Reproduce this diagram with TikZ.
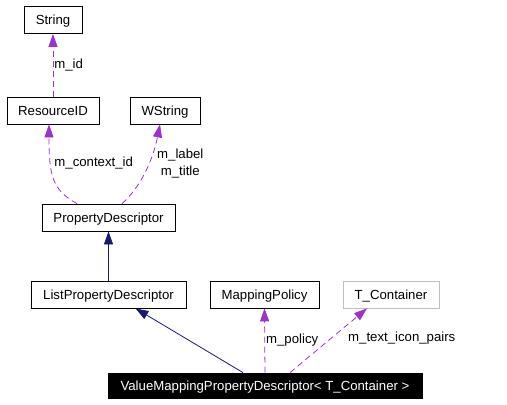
\documentclass[tikz,border=0pt]{standalone}
\usepackage{fontspec}
\setmainfont{Liberation Sans}
\usetikzlibrary{arrows.meta}
\definecolor{lila}{HTML}{9A32CD}
\definecolor{marino}{HTML}{191970}
\definecolor{gris}{HTML}{BFBFBF}
\tikzset{
  >={Triangle[length=13pt,width=9pt]},
  clase/.style={draw, line width=0.8pt, minimum height=27pt, inner sep=0pt,
    text height=9.3pt, text depth=0pt, font=\fontsize{13.2}{15}\selectfont},
  plantilla/.style={clase, draw=gris},
  actual/.style={clase, fill=black, text=white, minimum height=25pt},
  herencia/.style={->, draw=marino, line width=0.8pt},
  uso/.style={->, draw=lila, line width=0.8pt, dash pattern=on 6pt off 4pt},
  etiq/.style={inner sep=1pt, font=\fontsize{13.2}{15}\selectfont},
}

\begin{document}
\begin{tikzpicture}[x=1pt, y=-1pt]
  \useasboundingbox (0,0) rectangle (507,405);
  \node[clase, minimum width=58pt] (string) at (53,20) {String};
  \node[clase, minimum width=92pt] (resid) at (53,110.5) {ResourceID};
  \node[clase, minimum width=70pt] (wstring) at (165,110.5) {WString};
  \node[clase, minimum width=133pt] (pd) at (108.5,217.5) {PropertyDescriptor};
  \node[clase, minimum width=155pt] (listpd) at (108.5,294.5) {ListPropertyDescriptor};
  \node[clase, minimum width=109pt] (mapping) at (264.5,294.5) {MappingPolicy};
  \node[plantilla, minimum width=96pt] (tcont) at (391,294.5) {T\_Container};
  \node[actual, minimum width=314pt] (vmpd) at (265,385.5) {ValueMappingPropertyDescriptor< T\_Container >};
  \draw[uso] (resid.north) -- node[etiq, right] {m\_id} (string.south);
  \draw[uso] ([xshift=-31.5pt]pd.north) .. controls (52,190) and (49,175) .. ([xshift=-4pt]resid.south)
    node[etiq, pos=0.68, anchor=west, xshift=2.5pt] {m\_context\_id};
  \draw[uso] ([xshift=13.5pt]pd.north) .. controls (140,188) and (153,160) .. ([xshift=-5pt]wstring.south)
    node[etiq, pos=0.6, right=7pt, align=center, font=\fontsize{13.2}{17}\selectfont] {m\_label\\m\_title};
  \draw[herencia] (listpd.north) -- (pd.south);
  \draw[herencia] ([xshift=-22pt]vmpd.north) -- ([xshift=27pt]listpd.south);
  \draw[uso] (vmpd.north) -- node[etiq, right, pos=0.5] {m\_policy} (mapping.south);
  \draw[uso] ([xshift=25pt]vmpd.north) -- node[etiq, right=16pt, pos=0.53] {m\_text\_icon\_pairs} ([xshift=-24pt]tcont.south);
\end{tikzpicture}
\end{document}
